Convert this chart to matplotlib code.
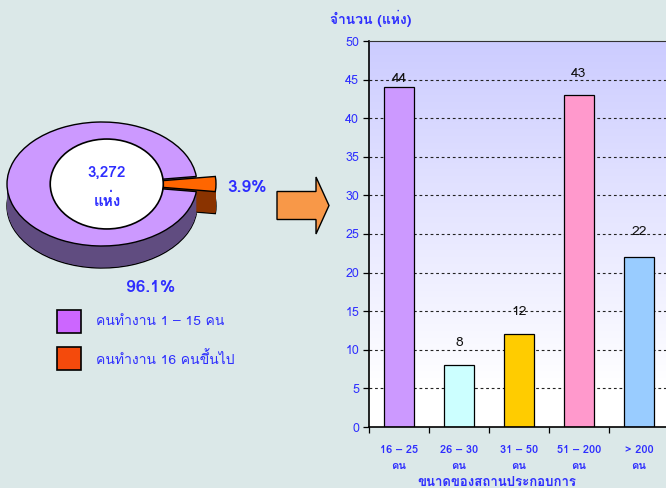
import numpy as np
import matplotlib
matplotlib.use("Agg")
import matplotlib.pyplot as plt
from matplotlib import font_manager as fm
from matplotlib.ft2font import FT2Font
from matplotlib.patches import Ellipse, FancyArrow, Rectangle

# ---------------- data ----------------
pie_labels = ["คนทำงาน 1 – 15 คน", "คนทำงาน 16 คนขึ้นไป"]
pie_shares = [96.1, 3.9]
pie_total = "3,272"
pie_unit = "แห่ง"

bar_categories = ["16 – 25\nคน", "26 – 30\nคน", "31 – 50\nคน", "51 – 200\nคน", "> 200\nคน"]
bar_values = [44, 8, 12, 43, 22]
y_ticks = [0, 5, 10, 15, 20, 25, 30, 35, 40, 45, 50]
y_title = "จำนวน (แห่ง)"
x_title = "ขนาดของสถานประกอบการ"

# ---------------- fonts ----------------
thai_font = None
for f in fm.fontManager.ttflist:
    try:
        ft = FT2Font(f.fname)
        if ft.get_char_index(ord('ค')) and ft.get_char_index(ord('1')):
            thai_font = f.name
            break
    except Exception:
        pass
fams = ([thai_font] if thai_font else []) + ["DejaVu Sans"]
plt.rcParams['font.family'] = fams

BG = "#dbe8e8"
BLUE = "#2e2eff"
W, H = 666, 488
fig = plt.figure(figsize=(W / 100, H / 100), dpi=100, facecolor=BG)

def px_axes(left, top, width, height):
    return fig.add_axes([left / W, 1 - (top + height) / H, width / W, height / H])

# ---------------- bar chart ----------------
bx = px_axes(369, 41, 300, 386)
bx.set_facecolor("white")
x = np.arange(len(bar_values))
bar_colors = ["#cc99ff", "#ccffff", "#ffcc00", "#ff99cc", "#99ccff"]
grad = np.linspace(0, 1, 256)[:, None]
top_c = np.array([0.80, 0.80, 1.0])
bot_c = np.array([1.0, 1.0, 1.0])
t = np.clip(grad * 1.12, 0, 1)
img = top_c[None, None, :] * (1 - t[..., None]) + bot_c[None, None, :] * t[..., None]
img = np.repeat(img, 2, axis=1)
bx.imshow(img, extent=(-0.5, 4.5, 0, 50), aspect="auto", origin="upper", zorder=0)
for yv in y_ticks[1:-1]:
    bx.axhline(yv, color="#222222", lw=0.8, ls=(0, (2.5, 2.5)), zorder=1)
bars = bx.bar(x, bar_values, width=0.5, color=bar_colors, edgecolor="black", lw=0.9, zorder=2)
label_offsets = [2, 12, 12, 11, 14]
for xi, v, off in zip(x, bar_values, label_offsets):
    bx.annotate(str(v), (xi, v), xytext=(0, off), textcoords="offset points",
                ha="center", va="bottom", fontsize=10, color="#111111", zorder=3)
bx.set_xlim(-0.5, 4.5)
bx.set_ylim(0, 50)
bx.set_yticks(y_ticks)
bx.set_yticklabels([str(v) for v in y_ticks], color=BLUE, fontsize=9)
bx.tick_params(axis="y", direction="out", length=4, width=0.9, pad=3)
bx.set_xticks(x)
bx.set_xticklabels(bar_categories, color=BLUE, fontsize=8, fontweight="bold", linespacing=1.75)
bx.tick_params(axis="x", length=0, pad=13)
bx.set_xticks(np.arange(-0.5, 5.0, 1.0), minor=True)
bx.tick_params(axis="x", which="minor", direction="out", length=4, width=0.9)
bx.spines["right"].set_visible(False)
bx.spines["top"].set_color("#333333")
for s in ("left", "bottom"):
    bx.spines[s].set_linewidth(1.2)
    bx.spines[s].set_color("black")

fig.text(330 / W, 1 - 18 / H, y_title, color=BLUE, fontsize=10, fontweight="bold",
         ha="left", va="center")
fig.text(497 / W, 1 - 483 / H, x_title, color=BLUE, fontsize=9.5, fontweight="bold",
         ha="center", va="center")

# ---------------- 3D donut pie ----------------
cx, cy, rx, ry = 102, 184, 95, 62
xl, xr, yb, yt = -1.3, 1.6, -1.7, 1.3
pa = px_axes(cx + xl * rx, cy - yt * ry, (xr - xl) * rx, (yt - yb) * ry)
depth = 22 / ry
explode = [0, 0.2]
top_cols = ["#cc99ff", "#ff6600"]
side_cols = ["#604c80", "#8a3300"]
layers = np.linspace(depth, 0, 40, endpoint=False)
for i, d in enumerate(layers):
    ec = "black" if i == 0 else "none"
    pa.pie(pie_shares, colors=side_cols, startangle=7, explode=explode, center=(0, -d),
           wedgeprops=dict(edgecolor=ec, linewidth=1.0), frame=True)
pa.pie(pie_shares, colors=top_cols, startangle=7, explode=explode, center=(0, 0),
       wedgeprops=dict(edgecolor="black", linewidth=1.0), frame=True)
pa.add_patch(Ellipse((0.05, 0.0), 1.19, 1.45, facecolor="white", edgecolor="black", lw=1.2, zorder=5))
pa.set_aspect("auto")
pa.set_xlim(xl, xr)
pa.set_ylim(yb, yt)
pa.axis("off")
pa.patch.set_alpha(0)

# ---------------- overlay (text, arrow, legend) ----------------
ov = fig.add_axes([0, 0, 1, 1], facecolor="none")
ov.set_xlim(0, W)
ov.set_ylim(H, 0)
ov.axis("off")
ov.text(107, 173, pie_total, color=BLUE, fontsize=11, fontweight="bold", ha="center", va="center")
ov.text(107, 201, pie_unit, color=BLUE, fontsize=11, fontweight="bold", ha="center", va="center")
ov.text(247, 187, f"{pie_shares[1]:.1f}%", color=BLUE, fontsize=12.5, fontweight="bold",
        ha="center", va="center")
ov.text(151, 287, f"{pie_shares[0]:.1f}%", color=BLUE, fontsize=12.5, fontweight="bold",
        ha="center", va="center")

ov.add_patch(FancyArrow(277, 205.5, 52, 0, width=28, head_width=57, head_length=13,
                        length_includes_head=True, facecolor="#f89848", edgecolor="black", lw=1.0))

leg_cols = ["#cc66ff", "#f44a0c"]
for i, (lab, c) in enumerate(zip(pie_labels, leg_cols)):
    ytop = 310 + i * 37
    ov.add_patch(Rectangle((57, ytop), 24, 23, facecolor=c, edgecolor="black", lw=1.2))
    ov.text(96, ytop + 12, lab, color=BLUE, fontsize=10, ha="left", va="center")

fig.savefig("out.png", dpi=100, facecolor=BG)
